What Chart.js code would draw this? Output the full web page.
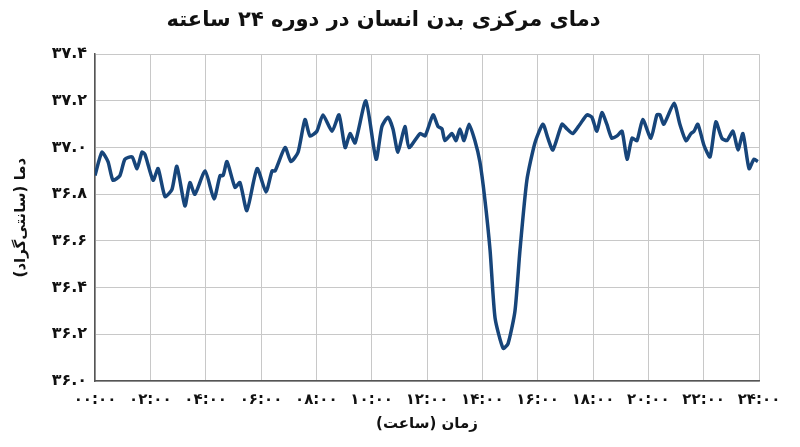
<!DOCTYPE html>
<html><head><meta charset="utf-8">
<script src="https://cdn.jsdelivr.net/npm/chart.js@4"></script>
<style>html,body{margin:0;background:#fff}#w{width:800px;height:447px}</style>
</head><body><div id="w"><canvas id="c"></canvas></div>
<script>
const hours=[0,0.25,0.47,0.65,0.90,1.08,1.34,1.52,1.70,1.81,2.10,2.28,2.53,2.78,2.96,3.25,3.43,3.61,3.98,4.30,4.52,4.63,4.77,5.06,5.24,5.49,5.86,6.18,6.40,6.51,6.87,7.08,7.34,7.59,7.77,8.02,8.24,8.57,8.82,9.04,9.22,9.40,9.79,10.16,10.37,10.59,10.77,10.95,11.20,11.35,11.75,11.93,12.22,12.40,12.54,12.65,12.90,13.05,13.19,13.34,13.52,13.73,13.91,14.09,14.28,14.46,14.75,14.93,15.18,15.36,15.61,15.90,16.19,16.37,16.55,16.88,17.06,17.27,17.53,17.78,17.96,18.14,18.32,18.50,18.68,18.87,19.05,19.23,19.41,19.59,19.80,20.09,20.31,20.42,20.56,20.93,21.14,21.36,21.54,21.65,21.79,22.01,22.23,22.44,22.66,22.84,23.06,23.24,23.42,23.64,23.82,23.96];
const temps=[36.88,36.98,36.94,36.86,36.88,36.95,36.96,36.91,36.98,36.97,36.86,36.91,36.79,36.82,36.92,36.75,36.85,36.80,36.90,36.78,36.88,36.88,36.94,36.83,36.85,36.73,36.91,36.81,36.90,36.90,37.00,36.94,36.98,37.12,37.05,37.07,37.14,37.07,37.14,37.00,37.06,37.02,37.20,36.95,37.09,37.13,37.08,36.98,37.09,37.00,37.06,37.05,37.14,37.09,37.08,37.03,37.06,37.03,37.08,37.03,37.10,37.03,36.94,36.78,36.56,36.27,36.14,36.16,36.30,36.56,36.86,37.02,37.10,37.04,36.99,37.10,37.08,37.06,37.10,37.14,37.13,37.07,37.15,37.10,37.04,37.05,37.07,36.95,37.04,37.03,37.12,37.04,37.14,37.14,37.10,37.19,37.10,37.03,37.06,37.07,37.10,37.01,36.96,37.11,37.04,37.03,37.07,36.99,37.06,36.91,36.95,36.94];
const xTickLabels=['۰۰:۰۰','۰۲:۰۰','۰۴:۰۰','۰۶:۰۰','۰۸:۰۰','۱۰:۰۰','۱۲:۰۰','۱۴:۰۰','۱۶:۰۰','۱۸:۰۰','۲۰:۰۰','۲۲:۰۰','۲۴:۰۰'];
const yTickLabels={'36':'۳۶.۰','36.2':'۳۶.۲','36.4':'۳۶.۴','36.6':'۳۶.۶','36.8':'۳۶.۸','37':'۳۷.۰','37.2':'۳۷.۲','37.4':'۳۷.۴'};
const F='"DejaVu Sans", sans-serif';
new Chart(document.getElementById('c'),{
 type:'line',
 data:{datasets:[{data:hours.map((h,i)=>({x:h,y:temps[i]})),borderColor:'#17457a',borderWidth:3.5,pointRadius:0,tension:0.2,fill:false}]},
 options:{responsive:true,maintainAspectRatio:false,animation:false,
  layout:{padding:{left:8,right:41,bottom:10,top:0}},
  plugins:{legend:{display:false},tooltip:{enabled:false},
   title:{display:true,text:'دمای مرکزی بدن انسان در دوره ۲۴ ساعته',color:'#111',font:{family:F,size:21,weight:'bold'},padding:{top:8,bottom:21}}},
  scales:{
   x:{type:'linear',min:0,max:24,afterBuildTicks:a=>{a.ticks=[];for(let i=0;i<=24;i+=2)a.ticks.push({value:i});},
    ticks:{autoSkip:false,maxRotation:0,padding:10,color:'#111',font:{family:F,size:15,weight:'bold'},callback:v=>xTickLabels[v/2]},
    grid:{color:'#c8c8c8',tickLength:0},border:{color:'#555',width:1.5},
    title:{display:true,text:'زمان (ساعت)',color:'#111',font:{family:F,size:15,weight:'bold'},padding:{top:4}},
    afterFit:a=>{a.height=56;}},
   y:{min:36,max:37.4,afterBuildTicks:a=>{a.ticks=[];for(let i=0;i<=7;i++)a.ticks.push({value:+(36+i*0.2).toFixed(1)});},
    ticks:{color:'#111',padding:8,font:{family:F,size:16,weight:'bold'},callback:v=>yTickLabels[String(+v.toFixed(1))]},
    grid:{color:'#c8c8c8',tickLength:0},border:{color:'#555',width:1.5},
    title:{display:true,text:'دما (سانتی‌گراد)',color:'#111',font:{family:F,size:15,weight:'bold'}},
    afterFit:a=>{a.width=87;}}
  }}
});
</script></body></html>
